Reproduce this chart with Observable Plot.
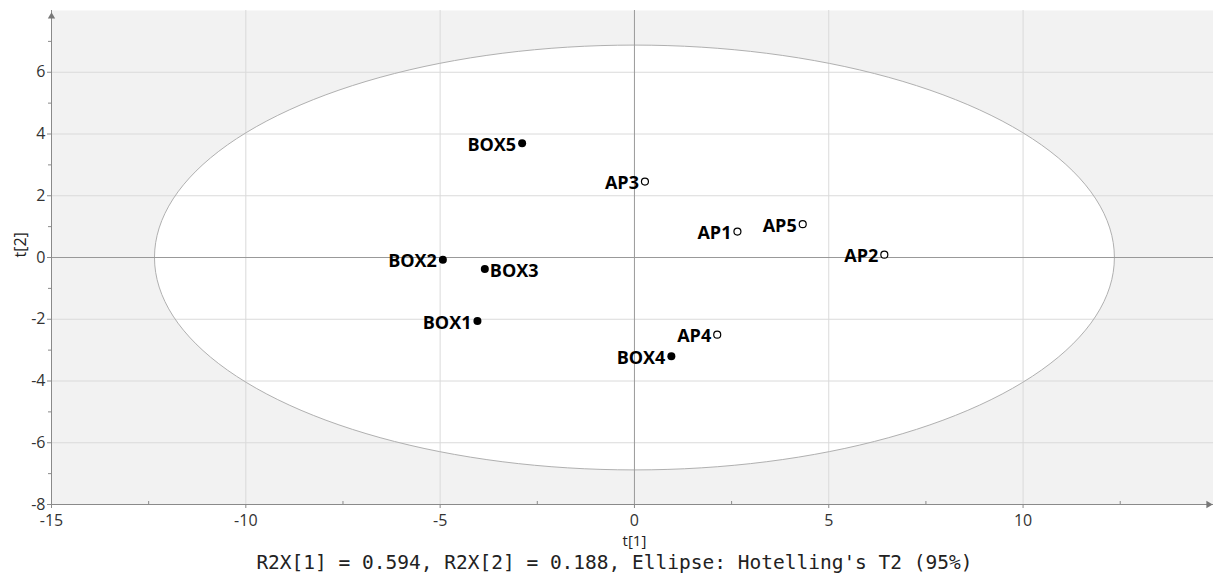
<!DOCTYPE html>
<html><head><meta charset="utf-8">
<script src="https://cdn.jsdelivr.net/npm/d3@7"></script>
<script src="https://cdn.jsdelivr.net/npm/@observablehq/plot@0.6"></script>
<style>body{margin:0;background:#fff;} svg{display:block}</style>
</head><body><div id="chart"></div>
<script>
const sampleIds   = ["BOX1","BOX2","BOX3","BOX4","BOX5","AP1","AP2","AP3","AP4","AP5"];
const t1          = [-4.04, -4.93, -3.85, 0.95, -2.89, 2.65, 6.43, 0.27, 2.13, 4.33];
const t2          = [-2.06, -0.07, -0.37, -3.20, 3.70, 0.84, 0.09, 2.46, -2.50, 1.08];
const sampleGroup = ["BOX","BOX","BOX","BOX","BOX","AP","AP","AP","AP","AP"];
const labelSide   = ["left","left","right","left","left","left","left","left","left","left"];
const xTicks = [-15, -10, -5, 0, 5, 10];
const yTicks = [-8, -6, -4, -2, 0, 2, 4, 6];
const xMinorTicks = [-12.5, -7.5, -2.5, 2.5, 7.5, 12.5];
const yMinorTicks = [-7, -5, -3, -1, 1, 3, 5, 7];
const ellipseA = 12.35, ellipseB = 6.88; // Hotelling's T2 (95%) semi-axes
const xLabel = "t[1]", yLabel = "t[2]";
const caption = "R2X[1] = 0.594, R2X[2] = 0.188, Ellipse: Hotelling's T2 (95%)";

const data = sampleIds.map((id, i) => ({id, t1: t1[i], t2: t2[i], group: sampleGroup[i], side: labelSide[i]}));
const ellipse = d3.range(0, 361, 2).map(a => ({x: ellipseA * Math.cos(a * Math.PI / 180), y: ellipseB * Math.sin(a * Math.PI / 180)}));

const chart = Plot.plot({
  width: 1213, height: 577,
  marginLeft: 51, marginRight: 0, marginTop: 10, marginBottom: 73,
  x: {domain: [-15, 14.9]},
  y: {domain: [-8, 8]},
  style: {fontFamily: "'Open Sans', sans-serif", background: "white"},
  marks: [
    Plot.frame({fill: "#f2f2f2", stroke: null}),
    Plot.line(ellipse, {x: "x", y: "y", fill: "white", stroke: "none"}),
    Plot.ruleX(xTicks.filter(d => d !== -15 && d !== 0), {stroke: "#dadada"}),
    Plot.ruleY(yTicks.filter(d => d !== -8 && d !== 0), {stroke: "#dadada"}),
    Plot.line(ellipse, {x: "x", y: "y", stroke: "#b0b0b0", strokeWidth: 1}),
    Plot.ruleX([0], {stroke: "#999"}),
    Plot.ruleY([0], {stroke: "#999"}),
    Plot.ruleX([-15], {stroke: "#8a8a8a"}),
    Plot.ruleY([-8], {stroke: "#8a8a8a"}),
    Plot.axisX({ticks: xTicks, tickSize: 4, tickPadding: 6, tickFormat: d => String(d), fontSize: 16, stroke: "#8a8a8a", fill: "#333", label: null}),
    Plot.axisY({ticks: yTicks, tickSize: 4, tickPadding: 2, tickFormat: d => String(d), fontSize: 16, stroke: "#8a8a8a", fill: "#333", label: null}),
    Plot.axisX({ticks: xMinorTicks, tickSize: -3, tickFormat: () => "", stroke: "#8a8a8a", label: null}),
    Plot.axisY({ticks: yMinorTicks, tickSize: 3, tickFormat: () => "", stroke: "#8a8a8a", label: null}),
    Plot.dot([{x: -15, y: 8}], {x: "x", y: "y", symbol: "triangle2", r: 3.5, fill: "#777", dy: 6}),
    Plot.dot([{x: 14.9, y: -8}], {x: "x", y: "y", symbol: "triangle2", r: 3.5, fill: "#777", dx: -5, rotate: 90}),
    Plot.dot(data.filter(d => d.group === "BOX"), {x: "t1", y: "t2", r: 4, fill: "black"}),
    Plot.dot(data.filter(d => d.group === "AP"), {x: "t1", y: "t2", r: 3.5, stroke: "black", fill: "white", strokeWidth: 1.2}),
    Plot.text(data.filter(d => d.side === "left"), {x: "t1", y: "t2", text: "id", textAnchor: "end", dx: -6, dy: 2, fontWeight: "bold", fontSize: 18, fill: "black"}),
    Plot.text(data.filter(d => d.side === "right"), {x: "t1", y: "t2", text: "id", textAnchor: "start", dx: 5, dy: 2, fontWeight: "bold", fontSize: 18, fill: "black"}),
    Plot.text([xLabel], {x: () => 0, frameAnchor: "bottom", dy: 41, fontSize: 15, fill: "#222"}),
    Plot.text([yLabel], {frameAnchor: "left", dx: -31, rotate: -90, fontSize: 16, fill: "#222"}),
    Plot.text([caption], {x: () => 0, frameAnchor: "bottom", dx: -20, dy: 64, fontSize: 19.5, fontFamily: "'DejaVu Sans Mono', monospace", fill: "#222"})
  ]
});
document.getElementById("chart").appendChild(chart);
</script>
</body></html>
